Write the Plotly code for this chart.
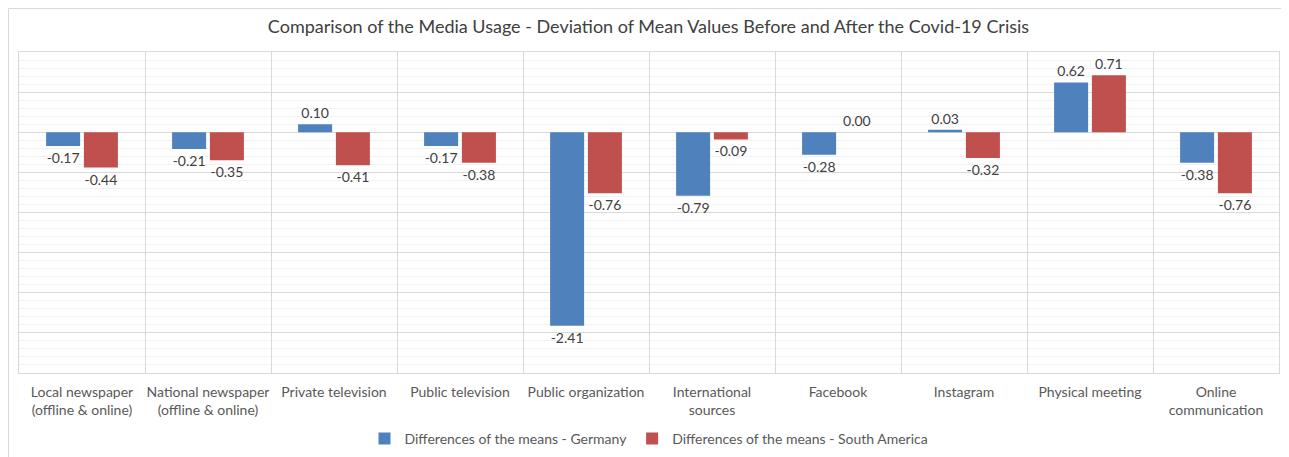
import plotly.graph_objects as go

categories = [
    "Local newspaper<br>(offline & online)",
    "National newspaper<br>(offline & online)",
    "Private television",
    "Public television",
    "Public organization",
    "International<br>sources",
    "Facebook",
    "Instagram",
    "Physical meeting",
    "Online<br>communication",
]
germany = [-0.17, -0.21, 0.10, -0.17, -2.41, -0.79, -0.28, 0.03, 0.62, -0.38]
south_america = [-0.44, -0.35, -0.41, -0.38, -0.76, -0.09, 0.00, -0.32, 0.71, -0.76]
series_names = ["Differences of the means - Germany", "Differences of the means - South America"]
colors = ["#4F81BD", "#C0504D"]

FONT = "Lato, 'Open Sans', sans-serif"
W, H = 1281, 449
ML, MR, MT, MB = 11, 10, 44, 84
PW, PH = W - ML - MR, H - MT - MB

fig = go.Figure()
for name, vals, col in zip(series_names, [germany, south_america], colors):
    fig.add_trace(go.Bar(
        x=categories, y=vals, name=name,
        marker=dict(color=col, line=dict(width=0)),
        texttemplate="%{y:.2f}", textposition="outside",
        textfont=dict(size=14, color="#404040", family=FONT),
        cliponaxis=False,
    ))

fig.update_layout(
    width=W, height=H,
    paper_bgcolor="white", plot_bgcolor="white",
    margin=dict(l=ML, r=MR, t=MT, b=MB, autoexpand=False),
    barmode="group", bargap=0.4, bargroupgap=0.1,
    title=dict(text="Comparison of the Media Usage - Deviation of Mean Values Before and After the Covid-19 Crisis",
               x=0.5, xanchor="center", y=1 - 19 / H, yanchor="middle",
               font=dict(size=18, color="#404040", family=FONT)),
    font=dict(family=FONT, color="#595959"),
    legend=dict(orientation="h", x=0.5, xanchor="center", y=-66 / PH, yanchor="middle",
                font=dict(size=14, color="#595959", family=FONT),
                itemwidth=30, traceorder="normal"),
    showlegend=True,
)
fig.update_xaxes(
    type="category", tickson="boundaries", showgrid=True, gridcolor="#D9D9D9", gridwidth=1,
    showline=True, linecolor="#D9D9D9", mirror=True, ticks="", automargin=False,
    tickangle=0, ticklabelstandoff=6, tickfont=dict(size=14, color="#595959", family=FONT),
)
fig.update_yaxes(
    range=[-3, 1], dtick=0.5, showticklabels=False, showgrid=True, gridcolor="#D9D9D9",
    zeroline=True, zerolinecolor="#D9D9D9", zerolinewidth=1, automargin=False,
    minor=dict(dtick=0.1, showgrid=True, gridcolor="#F2F2F2"),
    showline=True, linecolor="#D9D9D9", mirror=True,
)
fig.add_shape(type="rect", xref="paper", yref="paper",
              x0=-(ML - 0.5) / PW, x1=1 + (MR + 5) / PW, y0=-(MB + 5) / PH, y1=1 + (MT - 0.5) / PH,
              line=dict(color="#D9D9D9", width=1), fillcolor="rgba(0,0,0,0)", layer="below")

fig.write_html("out.html")
